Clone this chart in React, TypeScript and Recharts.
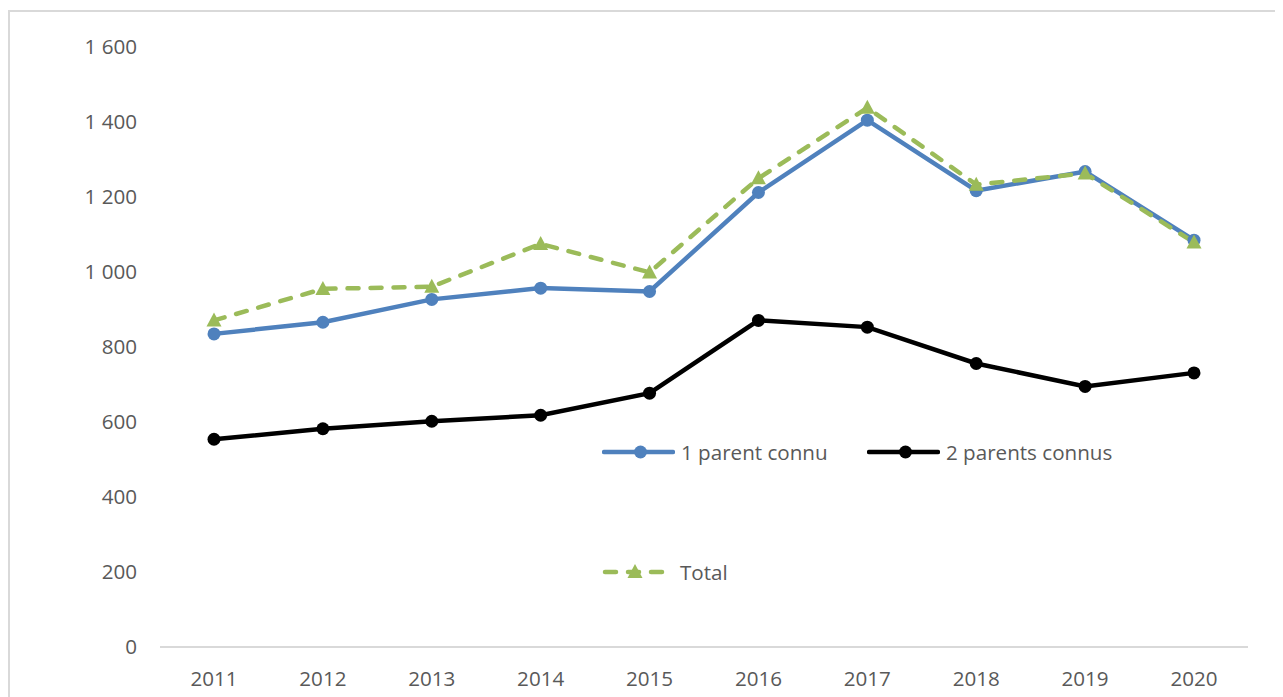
import { LineChart, Line, XAxis, YAxis, Legend } from 'recharts';

const years = ['2011', '2012', '2013', '2014', '2015', '2016', '2017', '2018', '2019', '2020'];
const oneParent = [835, 866, 927, 957, 948, 1212, 1405, 1217, 1268, 1085];
const twoParents = [554, 582, 602, 618, 677, 871, 853, 756, 695, 731];
const total = [871, 955, 961, 1075, 999, 1250, 1438, 1233, 1263, 1079];
const yTicks = [0, 200, 400, 600, 800, 1000, 1200, 1400, 1600];

const seriesNames = ['1 parent connu', '2 parents connus', 'Total'];
const BLUE = '#4f81bd';
const GREEN = '#9bbb59';
const TEXT = '#595959';
const FONT = '"Open Sans", sans-serif';
const FONT_SIZE = 20.6;

const chartData = years.map((year, i) => ({
  year,
  one: oneParent[i],
  two: twoParents[i],
  total: total[i],
}));

const formatThousands = (v: number) =>
  String(v).replace(/\B(?=(\d{3})+(?!\d))/g, ' ');

function Triangle(props: any) {
  const { cx, cy } = props;
  if (cx == null || cy == null) return null;
  return (
    <polygon
      points={`${cx},${cy - 8} ${cx - 7.5},${cy + 6} ${cx + 7.5},${cy + 6}`}
      fill={GREEN}
    />
  );
}

// legend sample: short line with the marker in the middle
function LegendItem({ left, top, width, kind, label }: any) {
  const mid = width / 2 + (kind === 'tri' ? 0 : 2);
  const color = kind === 'black' ? '#000' : kind === 'blue' ? BLUE : GREEN;
  return (
    <div style={{ position: 'absolute', left, top: top - 12, height: 24, display: 'flex', alignItems: 'center' }}>
      <svg width={width} height={24}>
        {kind === 'tri' ? (
          <>
            <line x1={3} y1={12} x2={width - 3} y2={12} stroke={color} strokeWidth={4.5}
              strokeDasharray="11 12" strokeLinecap="round" />
            <polygon points={`${mid},${4} ${mid - 7.5},${18} ${mid + 7.5},${18}`} fill={GREEN} />
          </>
        ) : (
          <>
            <line x1={2} y1={12} x2={width - 2} y2={12} stroke={color} strokeWidth={4.5} strokeLinecap="round" />
            <circle cx={mid} cy={12} r={6.5} fill={color} />
          </>
        )}
      </svg>
      <span style={{ marginLeft: kind === 'tri' ? 12 : 6, fontFamily: FONT, fontSize: FONT_SIZE, color: TEXT, whiteSpace: 'nowrap' }}>
        {label}
      </span>
    </div>
  );
}

function ChartLegend() {
  return (
    <div style={{ position: 'relative', width: 1273, height: 685 }}>
      <LegendItem left={592} top={440} width={73} kind="blue" label={seriesNames[0]} />
      <LegendItem left={857} top={440} width={73} kind="black" label={seriesNames[1]} />
      <LegendItem left={592} top={560} width={66} kind="tri" label={seriesNames[2]} />
    </div>
  );
}

export default function App() {
  return (
    <div style={{ paddingTop: 2 }}>
      <div
        style={{
          width: 1273,
          height: 685,
          borderLeft: '2px solid #d9d9d9',
          borderTop: '2px solid #d9d9d9',
          background: '#fff',
        }}
      >
        <LineChart
          width={1273}
          height={685}
          data={chartData}
          margin={{ top: 35, right: 35, bottom: 20, left: 0 }}
        >
          <XAxis
            dataKey="year"
            height={30}
            tickLine={false}
            tickSize={0}
            tickMargin={24}
            axisLine={{ stroke: '#d9d9d9', strokeWidth: 2 }}
            padding={{ left: 54, right: 54 }}
            tick={{ fontSize: FONT_SIZE, fill: TEXT, fontFamily: FONT }}
            interval={0}
          />
          <YAxis
            width={150}
            domain={[0, 1600]}
            ticks={yTicks}
            tickFormatter={formatThousands}
            axisLine={false}
            tickLine={false}
            tickSize={0}
            tickMargin={23}
            tick={{ fontSize: FONT_SIZE, fill: TEXT, fontFamily: FONT }}
          />
          <Legend
            layout="horizontal"
            verticalAlign="middle"
            align="center"
            wrapperStyle={{ left: 0, top: 0, width: 1273, height: 685, pointerEvents: 'none' }}
            content={() => <ChartLegend />}
          />
          <Line
            dataKey="one"
            name={seriesNames[0]}
            stroke={BLUE}
            strokeWidth={4.5}
            dot={{ r: 6.5, fill: BLUE, stroke: BLUE, strokeWidth: 0 }}
            isAnimationActive={false}
          />
          <Line
            dataKey="two"
            name={seriesNames[1]}
            stroke="#000"
            strokeWidth={4.5}
            dot={{ r: 6.5, fill: '#000', stroke: '#000', strokeWidth: 0 }}
            isAnimationActive={false}
          />
          <Line
            dataKey="total"
            name={seriesNames[2]}
            stroke={GREEN}
            strokeWidth={4.5}
            strokeDasharray="11 12"
            strokeLinecap="round"
            dot={<Triangle />}
            isAnimationActive={false}
          />
        </LineChart>
      </div>
    </div>
  );
}
